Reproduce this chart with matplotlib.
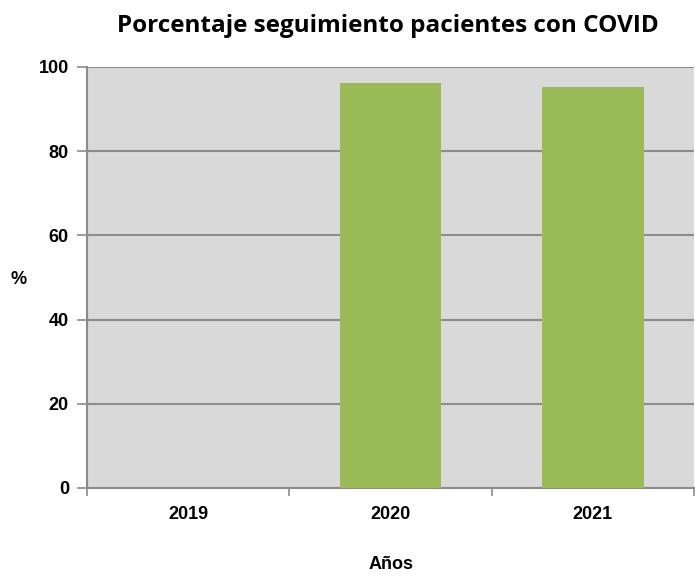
import matplotlib
matplotlib.use("Agg")
import matplotlib.pyplot as plt
import numpy as np

years = ["2019", "2020", "2021"]
porcentaje = [0.0, 96.3, 95.2]
y_ticks = [0, 20, 40, 60, 80, 100]

fig = plt.figure(figsize=(6.95, 5.76), dpi=100)
ax = fig.add_axes([0.1252, 0.1528, 0.8735, 0.7309])

x = np.arange(len(years))
ax.bar(x, porcentaje, width=0.5, color="#9bbb59", zorder=3)

ax.set_facecolor("#d9d9d9")
ax.set_xlim(-0.5, len(years) - 0.5)
ax.set_ylim(0, 100)

lab = dict(fontfamily="Liberation Sans", fontweight="bold", fontsize=13)

ax.set_yticks(y_ticks)
ax.set_yticklabels([str(t) for t in y_ticks], **lab)
ax.yaxis.grid(True, color="#8c8c8c", linewidth=1.5, zorder=1)
ax.tick_params(axis="y", length=7, width=1.2, color="#8c8c8c", pad=6)

# category labels centred, tick marks on the boundaries
ax.set_xticks(x)
ax.set_xticklabels(years, **lab)
ax.set_xticks(np.arange(len(years) + 1) - 0.5, minor=True)
ax.tick_params(axis="x", which="major", length=0, pad=13)
ax.tick_params(axis="x", which="minor", length=6, width=1.2, color="#8c8c8c")

for side in ["top", "right"]:
    ax.spines[side].set_visible(False)
for side in ["left", "bottom"]:
    ax.spines[side].set_color("#8c8c8c")
    ax.spines[side].set_linewidth(1.5)

fig.text(0.558, 0.955, "Porcentaje seguimiento pacientes con COVID",
         ha="center", va="center", fontfamily="Open Sans", fontweight="bold", fontsize=17.5)
fig.text(0.026, 0.514, "%", ha="center", va="center", **lab)
fig.text(0.563, 0.012, "Años", ha="center", va="baseline", **lab)

fig.savefig("out.png", dpi=100)
